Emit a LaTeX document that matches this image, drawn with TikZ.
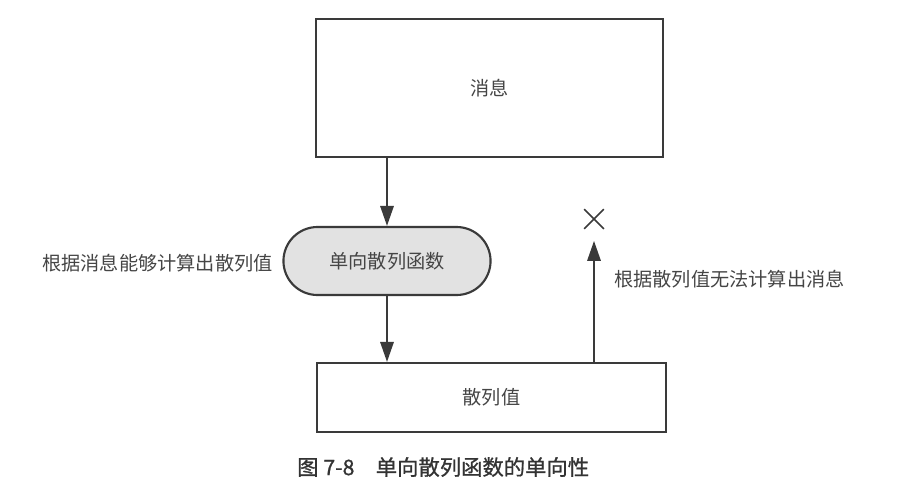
\documentclass[tikz,border=0pt]{standalone}
\usepackage{fontspec}
\setmainfont{Noto Sans CJK SC}
\newfontfamily\capfont{Noto Sans CJK SC}[FakeBold=0.9]
\usepackage{xcolor}
\definecolor{inkgray}{HTML}{3a3a3a}
\definecolor{textgray}{HTML}{454545}
\definecolor{pillfill}{HTML}{e2e2e2}
\usepackage{tikz}
\usetikzlibrary{shapes.misc}
\usetikzlibrary{arrows.meta}
\def\pix{0.75pt}

\tikzset{
    box/.style={rectangle, draw=inkgray, line width=1.6pt, text=textgray,
        font=\fontsize{14.4pt}{17pt}\selectfont},
    pill/.style={rounded rectangle, draw=inkgray, fill=pillfill, line width=1.6pt,
        text=textgray, font=\fontsize{14.4pt}{17pt}\selectfont},
    flow/.style={draw=inkgray, line width=1.6pt, -{Triangle[length=15pt, width=10pt]}},
    note/.style={text=textgray, inner sep=0pt, font=\fontsize{14.4pt}{17pt}\selectfont}
}

\begin{document}
\begin{tikzpicture}[x=\pix, y=-\pix]
            \useasboundingbox (0,0) rectangle (919,500);

            \node (msg) at (489.5,88) [box, minimum width=347*\pix, minimum height=138*\pix] {消息};
            \node (hashfn) at (387,261) [pill, minimum width=216*\pix, minimum height=68*\pix] {单向散列函数};
            \node (hashval) at (491.5,397.5) [box, minimum width=349*\pix, minimum height=69*\pix] {散列值};
            \node (cross) at (594,219) [cross out, draw=inkgray, line width=1.3pt, minimum size=18*\pix, inner sep=0pt] {};

            \draw[flow] (msg.south -| hashfn.north) -- (hashfn.north);
            \draw[flow] (hashfn.south) -- (hashfn.south |- hashval.north);
            \draw[flow] (hashval.north -| cross.south) -- ([yshift=-9pt]cross.south);

            \node (canlabel) at (273,263) [note, anchor=east] {根据消息能够计算出散列值};
            \node (cannotlabel) at (614,279) [note, anchor=west] {根据散列值无法计算出消息};

            \node (caption) at (297,467) [note, anchor=west, font=\fontsize{16pt}{19pt}\capfont, text=black!80] {图 7-8\quad 单向散列函数的单向性};
        \end{tikzpicture}
\end{document}
